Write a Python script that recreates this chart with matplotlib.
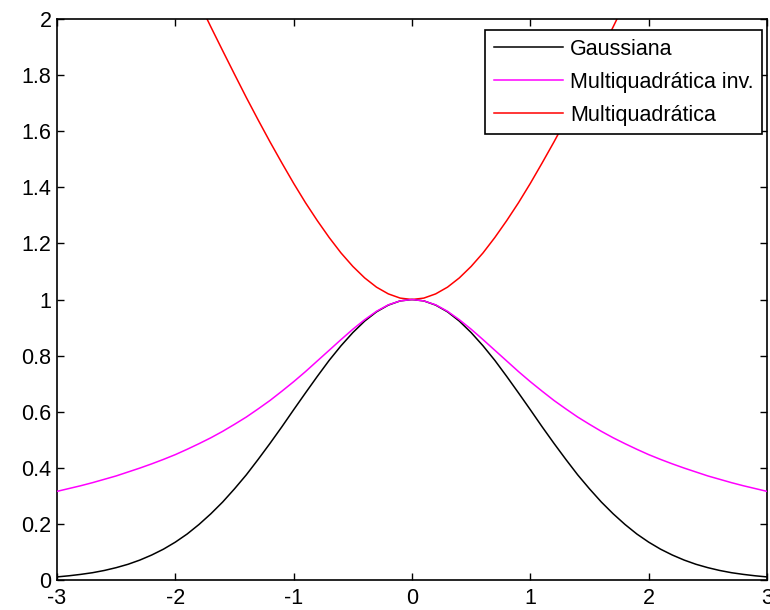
import matplotlib
matplotlib.use("Agg")
import matplotlib.pyplot as plt

plt.rcParams['font.family'] = ['Liberation Sans', 'DejaVu Sans']

x = [-3.0, -2.9, -2.8, -2.7, -2.6, -2.5, -2.4, -2.3, -2.2, -2.1, -2.0,
     -1.9, -1.8, -1.7, -1.6, -1.5, -1.4, -1.3, -1.2, -1.1, -1.0,
     -0.9, -0.8, -0.7, -0.6, -0.5, -0.4, -0.3, -0.2, -0.1, 0.0,
     0.1, 0.2, 0.3, 0.4, 0.5, 0.6, 0.7, 0.8, 0.9, 1.0,
     1.1, 1.2, 1.3, 1.4, 1.5, 1.6, 1.7, 1.8, 1.9, 2.0,
     2.1, 2.2, 2.3, 2.4, 2.5, 2.6, 2.7, 2.8, 2.9, 3.0]

gaussiana = [0.011, 0.015, 0.020, 0.026, 0.034, 0.044, 0.056, 0.071, 0.089, 0.110, 0.135,
             0.164, 0.198, 0.236, 0.278, 0.325, 0.375, 0.430, 0.487, 0.546, 0.607,
             0.667, 0.726, 0.783, 0.835, 0.882, 0.923, 0.956, 0.980, 0.995, 1.000,
             0.995, 0.980, 0.956, 0.923, 0.882, 0.835, 0.783, 0.726, 0.667, 0.607,
             0.546, 0.487, 0.430, 0.375, 0.325, 0.278, 0.236, 0.198, 0.164, 0.135,
             0.110, 0.089, 0.071, 0.056, 0.044, 0.034, 0.026, 0.020, 0.015, 0.011]

multiquad_inv = [0.316, 0.326, 0.336, 0.347, 0.359, 0.371, 0.385, 0.399, 0.414, 0.430, 0.447,
                 0.466, 0.486, 0.507, 0.530, 0.555, 0.581, 0.610, 0.640, 0.673, 0.707,
                 0.743, 0.781, 0.819, 0.857, 0.894, 0.928, 0.958, 0.981, 0.995, 1.000,
                 0.995, 0.981, 0.958, 0.928, 0.894, 0.857, 0.819, 0.781, 0.743, 0.707,
                 0.673, 0.640, 0.610, 0.581, 0.555, 0.530, 0.507, 0.486, 0.466, 0.447,
                 0.430, 0.414, 0.399, 0.385, 0.371, 0.359, 0.347, 0.336, 0.326, 0.316]

multiquad = [3.162, 3.065, 2.973, 2.879, 2.786, 2.693, 2.600, 2.508, 2.417, 2.326, 2.236,
             2.147, 2.059, 1.972, 1.887, 1.803, 1.720, 1.640, 1.562, 1.487, 1.414,
             1.345, 1.281, 1.221, 1.166, 1.118, 1.077, 1.044, 1.020, 1.005, 1.000,
             1.005, 1.020, 1.044, 1.077, 1.118, 1.166, 1.221, 1.281, 1.345, 1.414,
             1.487, 1.562, 1.640, 1.720, 1.803, 1.887, 1.972, 2.059, 2.147, 2.236,
             2.326, 2.417, 2.508, 2.600, 2.693, 2.786, 2.879, 2.973, 3.065, 3.162]

labels = ['Gaussiana', 'Multiquadrática inv.', 'Multiquadrática']
xticks = [-3, -2, -1, 0, 1, 2, 3]
yticks = [0, 0.2, 0.4, 0.6, 0.8, 1, 1.2, 1.4, 1.6, 1.8, 2]
yticklabels = ['0', '0.2', '0.4', '0.6', '0.8', '1', '1.2', '1.4', '1.6', '1.8', '2']

fig = plt.figure(figsize=(7.7, 6.1), dpi=100)
ax = fig.add_axes([57/770, 30/610, 710/770, 561/610])

ax.plot(x, gaussiana, color='black', lw=1.1, label=labels[0], zorder=3)
ax.plot(x, multiquad_inv, color='#ff00ff', lw=1.1, label=labels[1], zorder=4)
ax.plot(x, multiquad, color='#ff0000', lw=1.1, label=labels[2], zorder=2)

ax.set_xlim(-3, 3)
ax.set_ylim(0, 2)
ax.set_xticks(xticks)
ax.set_xticklabels([str(t) for t in xticks])
ax.set_yticks(yticks)
ax.set_yticklabels(yticklabels)
ax.tick_params(direction='in', length=5, width=1, top=True, right=True,
               labelsize=15.5, colors='black')
ax.tick_params(axis='x', pad=6)
ax.tick_params(axis='y', pad=4)
for s in ax.spines.values():
    s.set_linewidth(1.2)
    s.set_color('black')

leg = ax.legend(loc='upper right', bbox_to_anchor=(0.993, 0.980), borderaxespad=0,
                fontsize=15.5, fancybox=False, shadow=False, framealpha=1,
                edgecolor='black', handlelength=3.2, handletextpad=0.33,
                labelspacing=0.55, borderpad=0.4)
leg.get_frame().set_linewidth(1.2)

fig.savefig('out.png', dpi=100)
